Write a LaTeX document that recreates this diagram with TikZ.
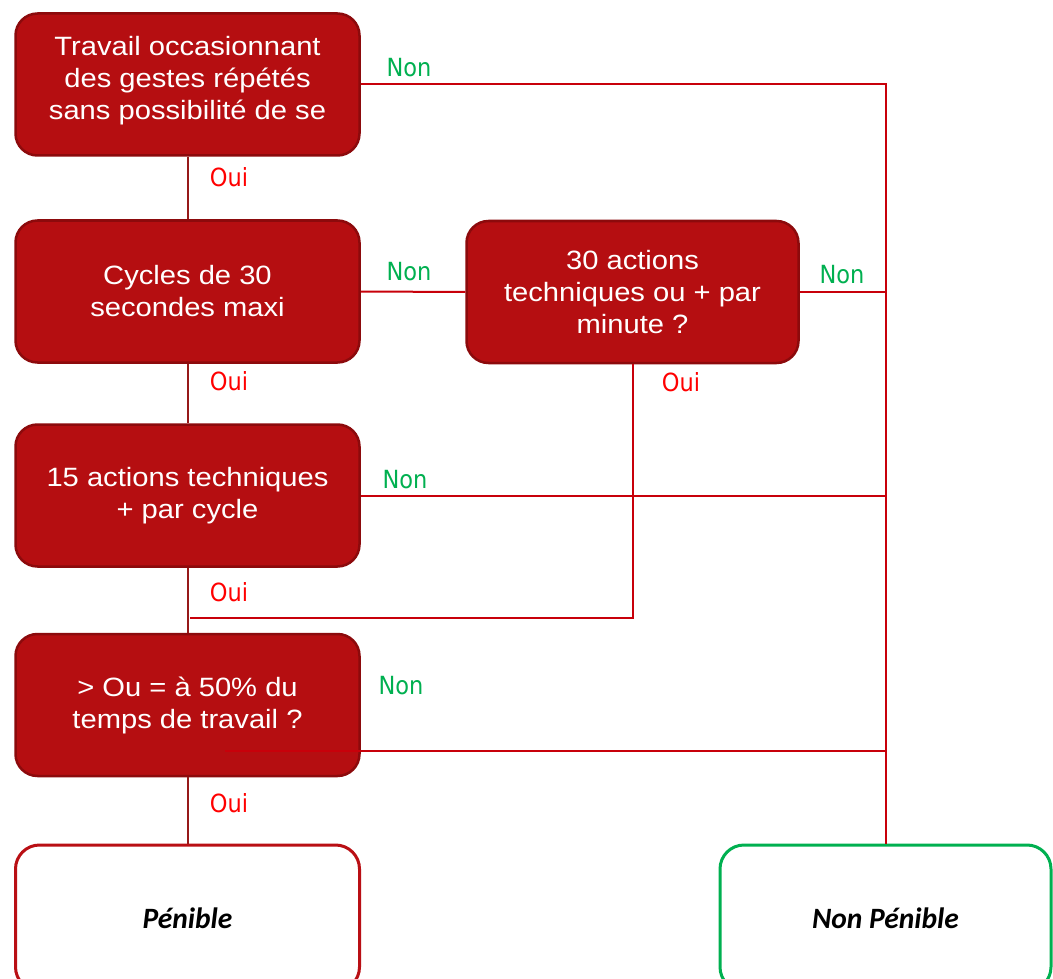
\documentclass[tikz,border=0pt]{standalone}
\usepackage{fontspec}
\setmainfont{Liberation Sans}
\newfontfamily\boxfont[FakeStretch=1.1]{Liberation Sans}
\newfontfamily\lblfont[FakeStretch=0.9]{DejaVu Sans}
\newfontfamily\endfont{Carlito}
\definecolor{boxfill}{RGB}{181,14,17}
\definecolor{boxborder}{RGB}{140,10,12}
\definecolor{linered}{RGB}{200,0,10}
\definecolor{linedark}{RGB}{150,25,25}
\definecolor{ouired}{RGB}{255,0,0}
\definecolor{nongreen}{RGB}{0,176,80}
\definecolor{endred}{RGB}{185,15,20}
\begin{document}
\begin{tikzpicture}[x=1pt,y=-1pt,
  box/.style={draw=boxborder, line width=2.5pt, fill=boxfill, rounded corners=22pt,
    minimum width=344pt, minimum height=142pt, inner sep=0pt, text=white,
    align=center, font=\boxfont\fontsize{26.5}{32}\selectfont},
  endbox/.style={draw, line width=3pt, fill=white, rounded corners=24pt,
    minimum height=146pt, inner sep=0pt, font=\endfont\bfseries\itshape\fontsize{29.5}{32}\selectfont},
  conn/.style={draw=linered, line width=2pt},
  connleft/.style={draw=linedark, line width=2pt},
  oui/.style={text=ouired, font=\lblfont\fontsize{25}{28}\selectfont, inner sep=0pt},
  non/.style={text=nongreen, font=\lblfont\fontsize{25}{28}\selectfont, inner sep=0pt}
]
\clip (0,0) rectangle (1053,979);
\fill[white] (0,0) rectangle (1053,979);

% nodes
\node[box] (b1) at (187.5,84.5) {};
\node[text=white, align=center, font=\boxfont\fontsize{26.5}{32}\selectfont, inner sep=0pt] (t1) at (187.5,80.5)
  {Travail occasionnant\\des gestes répétés\\sans possibilité de se};
\node[box] (b2) at (187.5,291.5) {Cycles de 30\\secondes maxi};
\node[box, minimum width=332pt] (b3) at (632.5,292) {30 actions\\techniques ou + par\\minute ?};
\node[box] (b4) at (187.5,495.5) {15 actions techniques\\+ par cycle};
\node[box] (b5) at (187.5,705) {> Ou = à 50\% du\\temps de travail ?};
\node[endbox, draw=endred, minimum width=344pt] (pen) at (187.5,918) {Pénible};
\node[endbox, draw=nongreen, minimum width=331pt] (npen) at (885.5,918) {Non Pénible};

\coordinate (j4) at (190,618);
\coordinate (j5) at (225,751);

% connectors
\path[connleft] (b1.south) -- (b2.north);
\path[connleft] (b2.south) -- (b4.north);
\path[connleft] (b4.south) -- (b5.north);
\path[connleft] (b5.south) -- (pen.north);
\path[conn] (b1.east) -- (b1.east -| npen.north) -- (npen.north);
\path[conn] (b2.east) -- (b3.west);
\path[conn] (b3.east) -- (b3.east -| npen.north);
\path[conn] (b4.east) -- (b4.east -| npen.north);
\path[conn] (b3.south) -- (b3.south |- j4) -- (j4);
\path[conn] (j5) -- (j5 -| npen.north);

% labels
\node[non] (n1) at (409,68) {Non};
\node[oui] (o1) at (229,177) {Oui};
\node[non] (n2) at (409,272) {Non};
\node[non] (n3) at (842,275) {Non};
\node[oui] (o2) at (229,381) {Oui};
\node[oui] (o3) at (681,382) {Oui};
\node[non] (n4) at (405,480) {Non};
\node[oui] (o4) at (229,592) {Oui};
\node[non] (n5) at (401,686) {Non};
\node[oui] (o5) at (229,803) {Oui};
\end{tikzpicture}
\end{document}
